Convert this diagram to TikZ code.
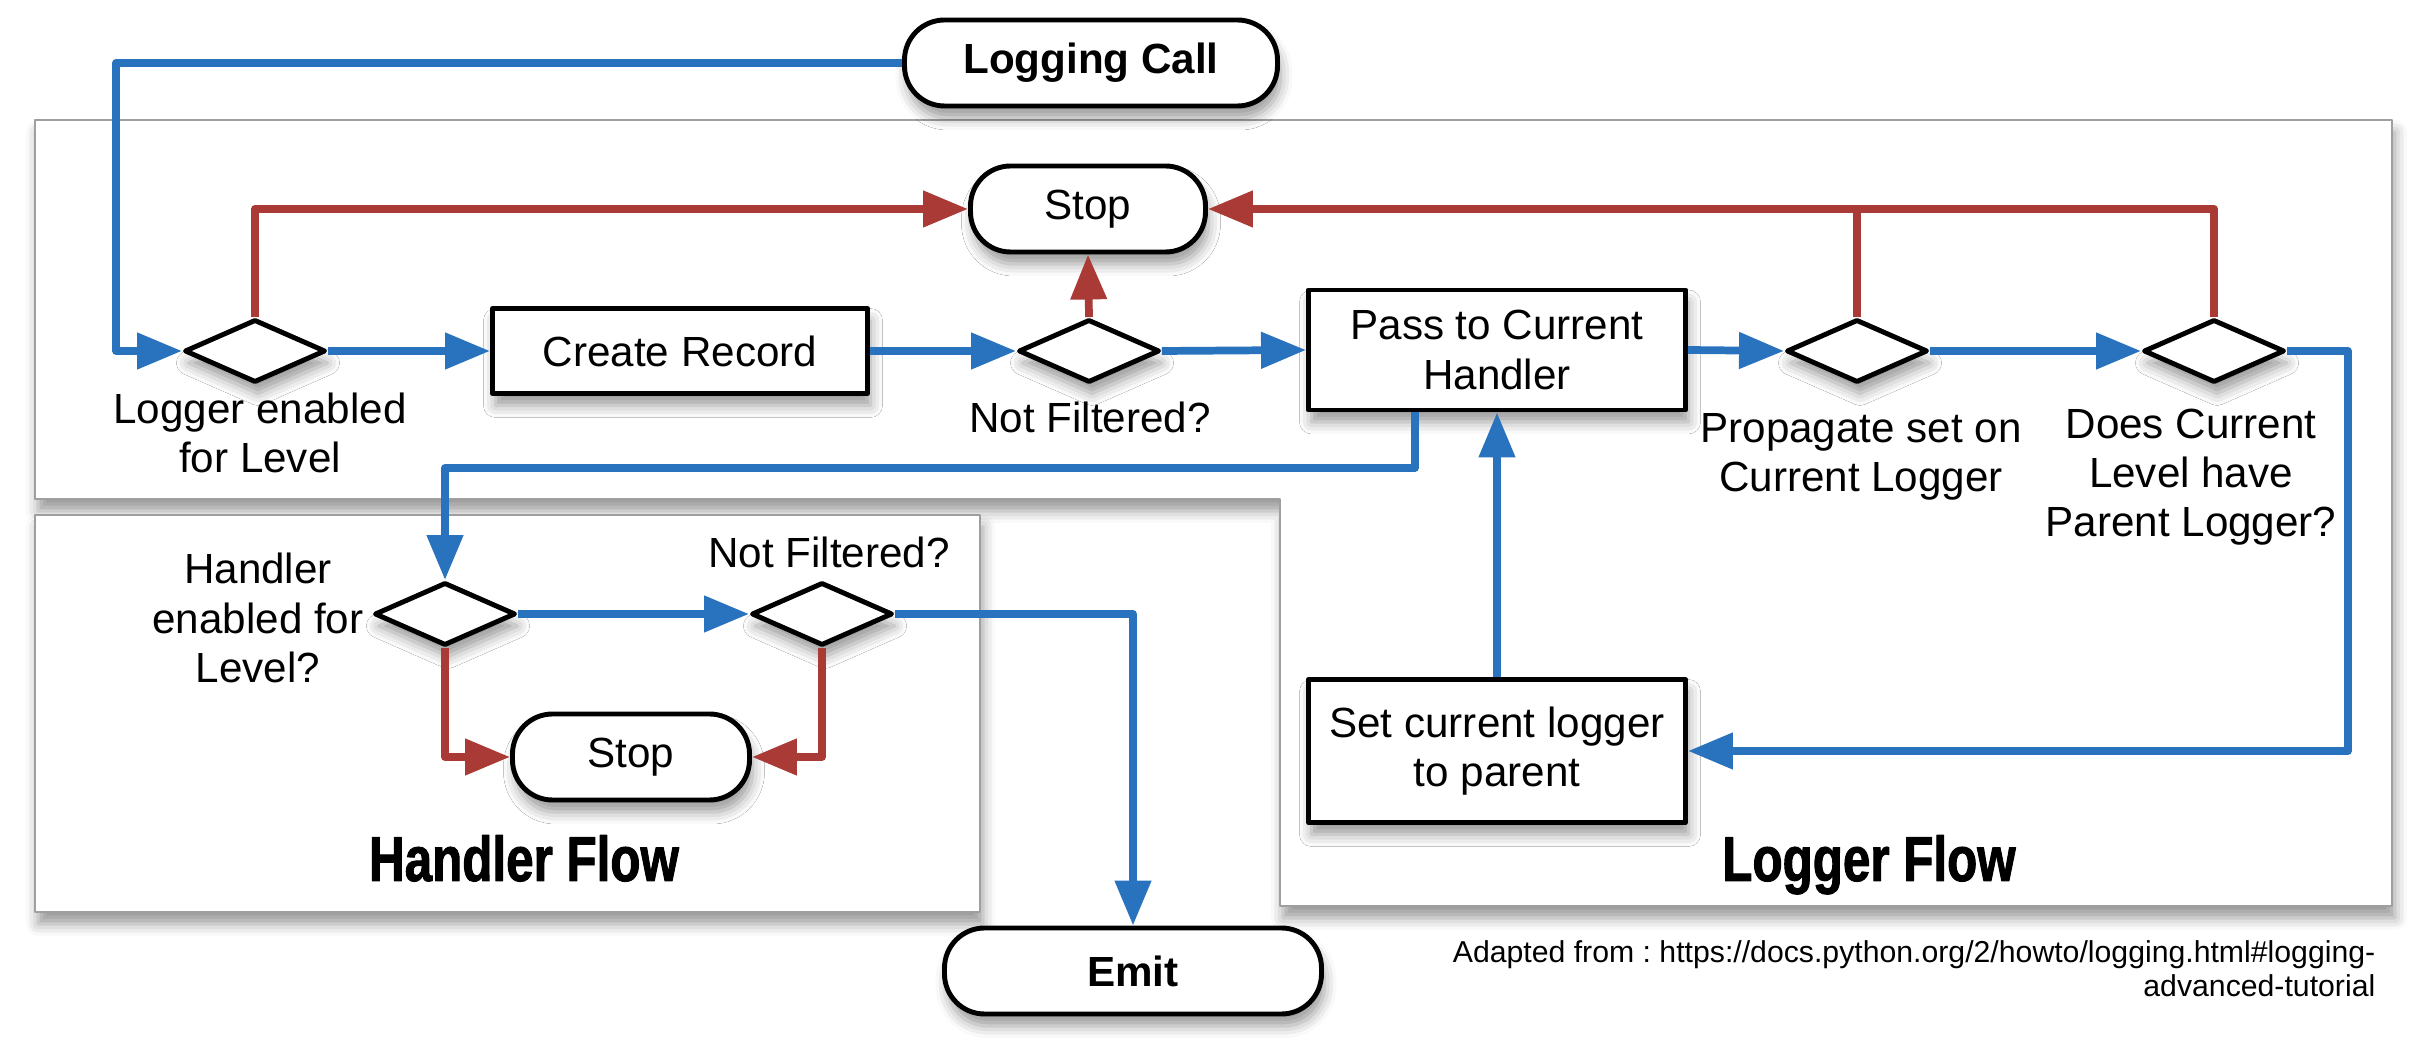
\documentclass[tikz,border=0pt]{standalone}
\usepackage{fontspec}
\setmainfont{Liberation Sans}
\newfontfamily\flowfont[FakeStretch=0.78,FakeBold=1.5]{Liberation Sans}
\usetikzlibrary{shapes.geometric,arrows.meta,shadows.blur}
\definecolor{flowblue}{RGB}{41,114,189}
\definecolor{stopred}{RGB}{169,58,53}
\frenchspacing

\begin{document}
\begin{tikzpicture}[>={Triangle[length=4.5mm,width=3.5mm]},line join=round,
		soft/.style={blur shadow={shadow xshift=0.3mm,shadow yshift=-1.2mm,shadow blur radius=1.2mm,shadow opacity=40}},
		frame/.style={draw=gray!75,line width=0.6pt,fill=white,soft},
		box/.style={draw,line width=1.4pt,fill=white,align=center,soft,
			font=\fontsize{12}{14}\selectfont},
		term/.style={box,rounded corners=4mm,minimum height=0.86cm},
		test/.style={diamond,draw,line width=1.4pt,fill=white,soft,
			minimum width=1.41cm,minimum height=0.63cm,inner sep=0pt},
		txt/.style={align=center,inner sep=0pt,font=\fontsize{12}{14}\selectfont},
		title/.style={anchor=base,font=\flowfont\bfseries\fontsize{18}{20}\selectfont},
		flow/.style={->,draw=flowblue,line width=2.2pt},
		nogo/.style={->,draw=stopred,line width=2.2pt}]

	\useasboundingbox (0,0) rectangle (24.24,10.45);

	% the two flows
	\draw [frame] (0.35,9.25) -- (23.92,9.25) -- (23.92,1.39) -- (12.8,1.39)
		-- (12.8,5.46) -- (0.35,5.46) -- cycle;
	\draw [frame] (0.35,5.30) rectangle (9.80,1.33);
	\node [title] (hflow) at (5.24,1.64) {Handler Flow};
	\node [title] (lflow) at (18.69,1.64) {Logger Flow};

	% logger flow
	\node [term, font=\bfseries\fontsize{12}{14}\selectfont, minimum width=3.73cm] (call) at (10.91,9.82) {Logging Call};
	\node [term, minimum width=2.35cm] (stop) at (10.88,8.36) {Stop};
	\node [test] (enabled) at (2.55,6.94) {};
	\node [box, minimum width=3.75cm, minimum height=0.85cm] (record) at (6.80,6.94) {Create Record};
	\node [test] (filter) at (10.89,6.94) {};
	\node [box, minimum width=3.77cm, minimum height=1.2cm] (pass) at (14.97,6.95) {Pass to Current\\Handler};
	\node [test] (propagate) at (18.57,6.94) {};
	\node [test] (parent) at (22.14,6.94) {};
	\node [box, minimum width=3.77cm, minimum height=1.43cm] (setparent) at (14.97,2.94) {Set current logger\\to parent};

	\node [txt] (enabledtxt) at (2.60,6.12) {Logger enabled\\for Level};
	\node [txt] (filtertxt) at (10.90,6.28) {Not Filtered?};
	\node [txt] (propagatetxt) at (18.61,5.88) {Propagate set on\\Current Logger};
	\node [txt] (parenttxt) at (21.91,5.68) {Does Current\\Level have\\Parent Logger?};

	% handler flow
	\node [test] (henabled) at (4.45,4.31) {};
	\node [test] (hfilter) at (8.22,4.31) {};
	\node [term, minimum width=2.37cm] (hstop) at (6.31,2.88) {Stop};
	\node [term, font=\bfseries\fontsize{12}{14}\selectfont, minimum width=3.77cm] (emit) at (11.33,0.74) {Emit};

	\node [txt] (henabledtxt) at (2.58,4.27) {Handler\\enabled for\\Level?};
	\node [txt] (hfiltertxt) at (8.29,4.93) {Not Filtered?};

	\node [txt, anchor=east, align=right, font=\fontsize{8.6}{9.6}\selectfont] (source) at (23.76,0.765)
		{Adapted from : https://docs.python.org/2/howto/logging.html\#logging-\\advanced-tutorial};

	% bends
	\coordinate (callx) at (1.16,9.82);
	\coordinate (parentx) at (23.48,6.94);
	\coordinate (passdown) at (14.15,5.77);

	% connectors
	\draw [flow] (call.west) -- (callx) |- (enabled.west);
	\draw [flow] (enabled.east) -- (record.west);
	\draw [flow] (record.east) -- (filter.west);
	\draw [flow] (filter.east) -- (pass.west);
	\draw [flow] (pass.east) -- (propagate.west);
	\draw [flow] (propagate.east) -- (parent.west);
	\draw [flow] (parent.east) -- (parentx) |- (setparent.east);
	\draw [flow] (setparent.north) -- (pass.south);
	\draw [flow] (pass.south -| passdown) -- (passdown) -| (henabled.north);
	\draw [flow] (henabled.east) -- (hfilter.west);
	\draw [flow] (hfilter.east) -| (emit.north);

	\draw [nogo] (enabled.north) |- (stop.west);
	\draw [nogo] (filter.north) -- (stop.south);
	\draw [nogo] (parent.north) |- (stop.east);
	\draw [draw=stopred, line width=2.2pt] (propagate.north) -- (propagate.north |- stop.east);
	\draw [nogo] (henabled.south) |- (hstop.west);
	\draw [nogo] (hfilter.south) |- (hstop.east);

\end{tikzpicture}
\end{document}
